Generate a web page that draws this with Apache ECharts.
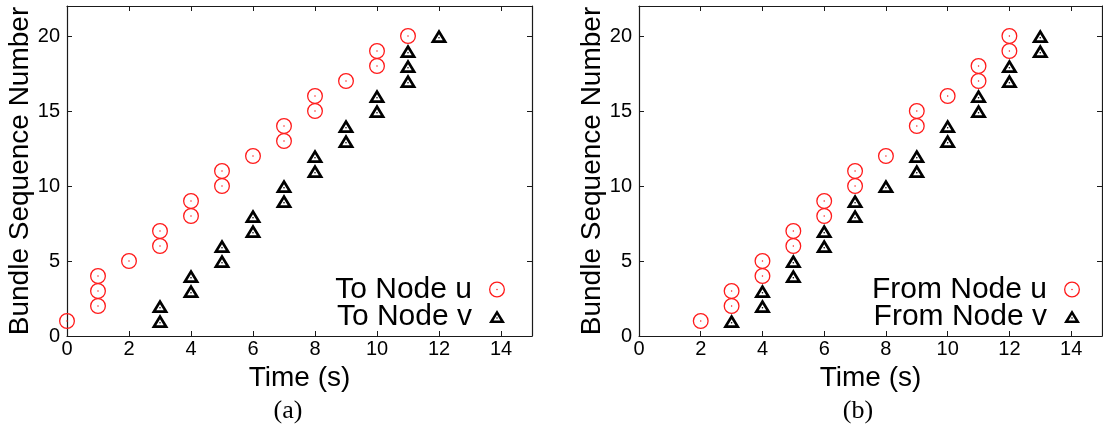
<!DOCTYPE html>
<html>
<head>
<meta charset="utf-8">
<script src="https://cdn.jsdelivr.net/npm/echarts@6/dist/echarts.min.js"></script>
<style>
  html, body { margin: 0; padding: 0; background: #ffffff; }
  #chart { width: 1103px; height: 434px; }
</style>
</head>
<body>
<div id="chart"></div>
<script>
// Arrival times (s) and bundle sequence numbers, panel (a): bundles sent to each node
const timeToU = [0, 1, 1, 1, 2, 3, 3, 4, 4, 5, 5, 6, 7, 7, 8, 8, 9, 10, 10, 11];
const seqToU  = [1, 2, 3, 4, 5, 6, 7, 8, 9, 10, 11, 12, 13, 14, 15, 16, 17, 18, 19, 20];
const timeToV = [3, 3, 4, 4, 5, 5, 6, 6, 7, 7, 8, 8, 9, 9, 10, 10, 11, 11, 11, 12];
const seqToV  = [1, 2, 3, 4, 5, 6, 7, 8, 9, 10, 11, 12, 13, 14, 15, 16, 17, 18, 19, 20];

// Panel (b): bundles received from each node
const timeFromU = [2, 3, 3, 4, 4, 5, 5, 6, 6, 7, 7, 8, 9, 9, 10, 11, 11, 12, 12];
const seqFromU  = [1, 2, 3, 4, 5, 6, 7, 8, 9, 10, 11, 12, 14, 15, 16, 17, 18, 19, 20];
const timeFromV = [3, 4, 4, 5, 5, 6, 6, 7, 7, 8, 9, 9, 10, 10, 11, 11, 12, 12, 13, 13];
const seqFromV  = [1, 2, 3, 4, 5, 6, 7, 8, 9, 10, 11, 12, 13, 14, 15, 16, 17, 18, 19, 20];

// Axis ranges and tick steps
const xRange = [0, 15], xStep = 2;
const yRange = [0, 22], yStep = 5;

const seriesNames = ['To Node u', 'To Node v', 'From Node u', 'From Node v'];
const panelTags = ['(a)', '(b)'];

const FONT = '"Liberation Sans", Arial, Helvetica, sans-serif';
const FRAME = '#1a1a1a';

// Open circle with a centre dot, and open triangle with a centre dot
const CIRCLE_DOT = 'path://M8 0A8 8 0 1 1 8 16A8 8 0 1 1 8 0Z' +
  'M8 1.3A6.7 6.7 0 1 0 8 14.7A6.7 6.7 0 1 0 8 1.3Z' +
  'M8 7.25A0.75 0.75 0 1 1 8 8.75A0.75 0.75 0 1 1 8 7.25Z';
const TRIANGLE_DOT = 'path://M8.5 0L17 14L0 14Z' +
  'M8.5 5.2L4.8 11.3L12.2 11.3Z' +
  'M8.5 7.9A0.8 0.8 0 1 1 8.5 9.5A0.8 0.8 0 1 1 8.5 7.9Z';

const zip = (xs, ys) => xs.map((x, i) => [x, ys[i]]);

function xAxisFor(gridIndex, position) {
  const labelled = position === 'bottom';
  return {
    type: 'value', gridIndex, position,
    min: xRange[0], max: xRange[1], interval: xStep,
    name: labelled ? 'Time (s)' : '',
    nameLocation: 'middle', nameGap: 24,
    nameTextStyle: { fontFamily: FONT, fontSize: 28, color: '#000' },
    axisLine: { show: true, onZero: false, lineStyle: { color: FRAME, width: 1.2 } },
    axisTick: { show: true, inside: true, length: 5, lineStyle: { color: FRAME, width: 1 } },
    axisLabel: { show: labelled, showMaxLabel: false, margin: 3,
      fontFamily: FONT, fontSize: 20, color: '#000' },
    splitLine: { show: false }
  };
}

function yAxisFor(gridIndex, position) {
  const labelled = position === 'left';
  return {
    type: 'value', gridIndex, position,
    min: yRange[0], max: yRange[1], interval: yStep,
    name: labelled ? 'Bundle Sequence Number' : '',
    nameLocation: 'middle', nameGap: 30,
    nameTextStyle: { fontFamily: FONT, fontSize: 28, color: '#000' },
    axisLine: { show: true, onZero: false, lineStyle: { color: FRAME, width: 1.2 } },
    axisTick: { show: true, inside: true, length: 5, lineStyle: { color: FRAME, width: 1 } },
    axisLabel: { show: labelled, showMaxLabel: false, margin: 7,
      fontFamily: FONT, fontSize: 20, color: '#000' },
    splitLine: { show: false }
  };
}

function scatter(name, data, axisIndex, symbol, size, color) {
  return {
    type: 'scatter', name, data,
    xAxisIndex: axisIndex, yAxisIndex: axisIndex,
    symbol, symbolSize: size,
    itemStyle: { color, opacity: 1, borderWidth: 0 },
    emphasis: { disabled: true },
    z: 3
  };
}

function legendFor(names, right) {
  return {
    orient: 'vertical', align: 'right',
    right, top: 274.5, padding: 0,
    itemWidth: 16, itemHeight: 16, itemGap: -3,
    selectedMode: false,
    itemStyle: { borderWidth: 0 },
    textStyle: { fontFamily: FONT, fontSize: 30, lineHeight: 27, color: '#000',
      padding: [0, 12, 0, 0] },
    data: names
  };
}

const chart = echarts.init(document.getElementById('chart'), null, { renderer: 'canvas' });

chart.setOption({
  animation: false,
  backgroundColor: '#ffffff',
  grid: [
    { left: 67, top: 6, width: 465, height: 330 },
    { left: 639, top: 6, width: 463, height: 330 }
  ],
  xAxis: [xAxisFor(0, 'bottom'), xAxisFor(0, 'top'), xAxisFor(1, 'bottom'), xAxisFor(1, 'top')],
  yAxis: [yAxisFor(0, 'left'), yAxisFor(0, 'right'), yAxisFor(1, 'left'), yAxisFor(1, 'right')],
  legend: [
    legendFor([seriesNames[0], seriesNames[1]], 598),
    legendFor([seriesNames[2], seriesNames[3]], 23)
  ],
  series: [
    scatter(seriesNames[0], zip(timeToU, seqToU), 0, CIRCLE_DOT, 16, '#ff1a1a'),
    scatter(seriesNames[1], zip(timeToV, seqToV), 0, TRIANGLE_DOT, [17, 14], '#000000'),
    scatter(seriesNames[2], zip(timeFromU, seqFromU), 2, CIRCLE_DOT, 16, '#ff1a1a'),
    scatter(seriesNames[3], zip(timeFromV, seqFromV), 2, TRIANGLE_DOT, [17, 14], '#000000')
  ],
  graphic: [
    { type: 'text', x: 288, y: 411, style: { text: panelTags[0], align: 'center', verticalAlign: 'middle',
      font: '26px "Liberation Serif", "DejaVu Serif", serif', fill: '#000' } },
    { type: 'text', x: 858, y: 411, style: { text: panelTags[1], align: 'center', verticalAlign: 'middle',
      font: '26px "Liberation Serif", "DejaVu Serif", serif', fill: '#000' } }
  ]
});
</script>
</body>
</html>
